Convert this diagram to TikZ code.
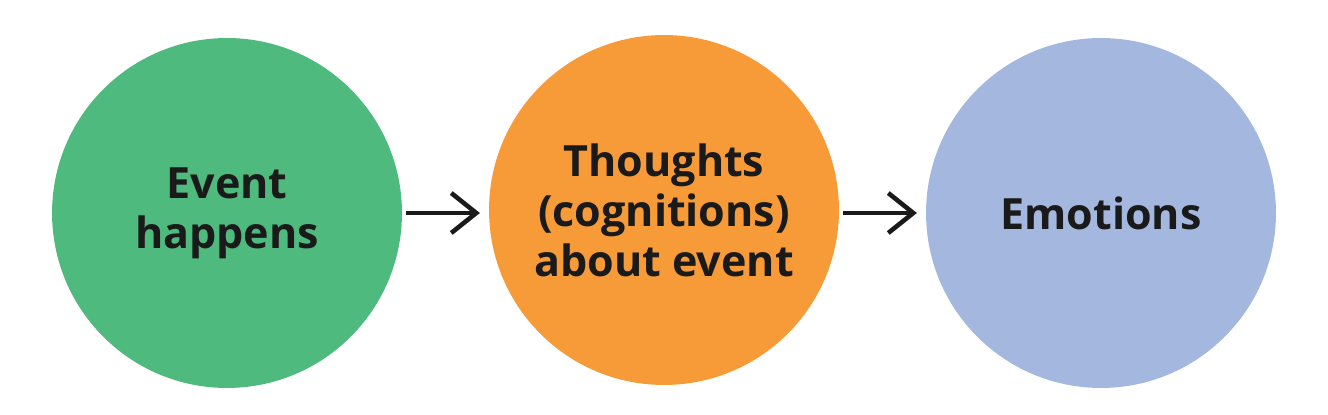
\documentclass[tikz,border=0pt]{standalone}
\usepackage{fontspec}
\setmainfont{Open Sans}
\usetikzlibrary{arrows.meta}
\definecolor{eventgreen}{RGB}{78,186,126}
\definecolor{thoughtorange}{RGB}{247,155,56}
\definecolor{emotionblue}{RGB}{164,184,223}
\definecolor{inkdark}{RGB}{26,26,26}
\begin{document}
\begin{tikzpicture}[x=0.02cm,y=-0.02cm,
  bubble/.style={circle,minimum size=7cm,inner sep=0pt,align=center,text=inkdark,
    font=\fontsize{24.5}{28.5}\selectfont\bfseries},
  flow/.style={draw=inkdark,line width=2.6pt,-{Straight Barb[length=5mm,width=8mm]}}]

\useasboundingbox (0,0) rectangle (1328,415);

\node (event) at (227,213)[bubble,fill=eventgreen]{Event\\happens};

\node (thoughts) at (664,210)[bubble,fill=thoughtorange]{Thoughts\\(cognitions)\\about event};

\node (emotions) at (1101,213)[bubble,fill=emotionblue]{Emotions};

% arrows between the circles
\draw[flow,shorten <=2pt,shorten >=5pt] (event.east) -- (event.east -| thoughts.west);
\draw[flow,shorten <=2pt,shorten >=5pt] (thoughts.east |- emotions.west) -- (emotions.west);

\end{tikzpicture}
\end{document}
